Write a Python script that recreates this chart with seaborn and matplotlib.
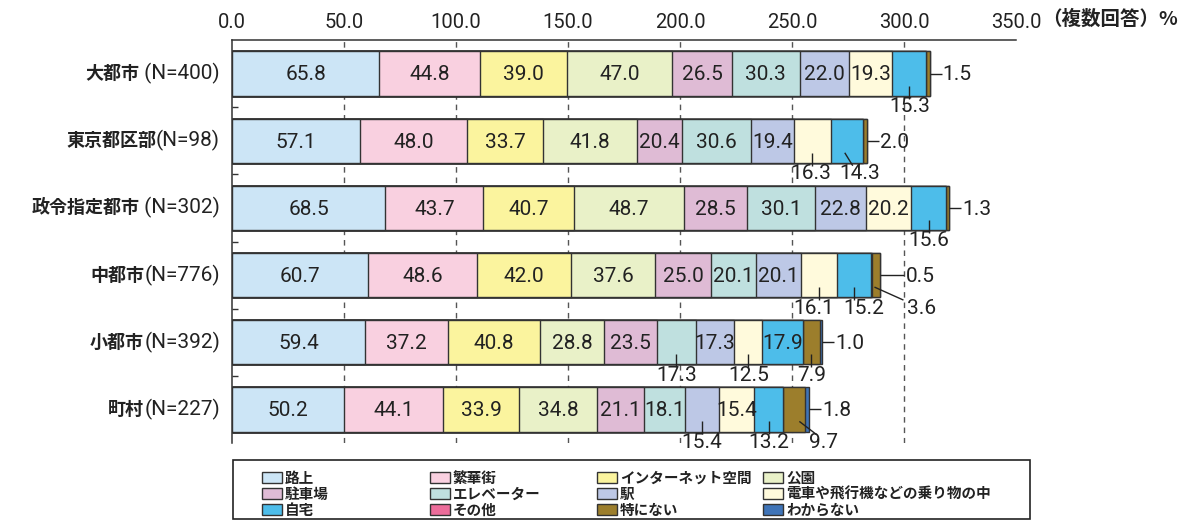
import numpy as np
import pandas as pd
import matplotlib
matplotlib.use("Agg")
import matplotlib.pyplot as plt
import seaborn as sns
from matplotlib.patches import Rectangle
from matplotlib.transforms import ScaledTranslation

# ---------------- data ----------------
areas = ['大都市', '東京都区部', '政令指定都市', '中都市', '小都市', '町村']
n_labels = [' (N=400)', '(N=98)', ' (N=302)', '(N=776)', '(N=392)', '(N=227)']

series_names = ['路上', '繁華街', 'インターネット空間', '公園', '駐車場', 'エレベーター',
                '駅', '電車や飛行機などの乗り物の中', '自宅', 'その他', '特にない', 'わからない']

road        = [65.8, 57.1, 68.5, 60.7, 59.4, 50.2]
downtown    = [44.8, 48.0, 43.7, 48.6, 37.2, 44.1]
internet    = [39.0, 33.7, 40.7, 42.0, 40.8, 33.9]
park        = [47.0, 41.8, 48.7, 37.6, 28.8, 34.8]
parking     = [26.5, 20.4, 28.5, 25.0, 23.5, 21.1]
elevator    = [30.3, 30.6, 30.1, 20.1, 17.3, 18.1]
station     = [22.0, 19.4, 22.8, 20.1, 17.3, 15.4]
vehicle     = [19.3, 16.3, 20.2, 16.1, 12.5, 15.4]
home        = [15.3, 14.3, 15.6, 15.2, 17.9, 13.2]
other       = [0.0, 0.0, 0.0, 0.5, 0.0, 0.0]
none_in_particular = [1.5, 2.0, 1.3, 3.6, 7.9, 9.7]
unknown     = [0.0, 0.0, 0.0, 0.0, 1.0, 1.8]

x_ticks = [0, 50, 100, 150, 200, 250, 300, 350]
x_tick_labels = ['0.0', '50.0', '100.0', '150.0', '200.0', '250.0', '300.0', '350.0']

series_values = [road, downtown, internet, park, parking, elevator,
                 station, vehicle, home, other, none_in_particular, unknown]

colors = ['#CCE5F6', '#F9D0E0', '#FBF49E', '#E9F1C8', '#DFBBD5', '#BFE0DF',
          '#BDC8E6', '#FFFADC', '#4DBDEA', '#EC6C9A', '#9C7E2C', '#3F74B8']

# label placement: (row, series) -> ('below', line_x0, line_x1, text_dx) in px, or ('right', leader_px)
label_rules = {
    (0, 8): ('below', 0, 0, 0), (0, 10): ('right', 12),
    (1, 7): ('below', 0, 0, -2), (1, 8): ('below', -2, 6, 13), (1, 10): ('right', 12),
    (2, 8): ('below', 0, 0, 0), (2, 10): ('right', 12),
    (3, 7): ('below', 0, 0, -5), (3, 8): ('below', 0, 0, 9),
    (3, 9): ('right', 24), (3, 10): ('below', -2, 27, 45),
    (4, 5): ('below', 0, 0, 0), (4, 7): ('below', 0, 0, 0), (4, 10): ('below', 0, 0, 0),
    (4, 11): ('right', 12),
    (5, 6): ('below', 0, 0, 0), (5, 8): ('below', 0, 0, 0), (5, 10): ('below', 5, 22, 29),
    (5, 11): ('right', 12),
}

# ---------------- figure ----------------
sns.set_theme(style="white")
plt.rcParams['font.family'] = ['Roboto', 'Noto Sans CJK JP', 'DejaVu Sans']
JP = ['Noto Sans CJK JP', 'DejaVu Sans']
TXT = '#222222'
EDGE = '#333333'
VAL_FS = 15

W, H = 1195, 520
fig = plt.figure(figsize=(W / 100, H / 100), dpi=100)
fig.patch.set_facecolor('white')

ax_l, ax_t, ax_r, ax_b = 232, 40, 1016, 443
ax = fig.add_axes([ax_l / W, 1 - ax_b / H, (ax_r - ax_l) / W, (ax_b - ax_t) / H])
XPX = 350 / (ax_r - ax_l)          # data units per pixel (x)
YPX = 6 / (ax_b - ax_t)            # data units per pixel (y)

df = pd.DataFrame({'area': areas})
cum = np.cumsum(np.array(series_values), axis=0)
for k in range(len(series_names)):
    df[f'cum{k}'] = cum[k]

# stacked bars: draw cumulative totals from the outermost segment inwards
for k in range(len(series_names) - 1, -1, -1):
    sns.barplot(data=df, x=f'cum{k}', y='area', orient='h', color=colors[k],
                saturation=1, width=0.66, edgecolor=EDGE, linewidth=1.0,
                errorbar=None, ax=ax, zorder=2)

ax.set_xlim(0, 350)
ax.set_ylim(5.5, -0.5)
ax.set_xlabel('')
ax.set_ylabel('')

# top value axis
ax.xaxis.tick_top()
ax.set_xticks(x_ticks)
ax.set_xticklabels(x_tick_labels, fontsize=14.5, color=TXT)
ax.tick_params(axis='x', length=0, pad=6)

# left category axis with separators
ax.set_yticks([])
ax.set_yticks(np.arange(0.5, 5.0, 1.0), minor=True)
ax.tick_params(axis='y', which='minor', direction='in', length=4.5, width=1, color='#333', left=True)
ax.tick_params(axis='y', which='major', length=0)

for s in ['right', 'bottom']:
    ax.spines[s].set_visible(False)
for s in ['top', 'left']:
    ax.spines[s].set_color('#333')
    ax.spines[s].set_linewidth(1.1)

for xv in x_ticks[1:-1]:
    ax.axvline(xv, color='#555', lw=1, ls=(0, (4, 3.5)), zorder=0)

# value labels
for i in range(len(areas)):
    start = 0.0
    total = cum[-1][i]
    for k in range(len(series_names)):
        v = series_values[k][i]
        if v <= 0:
            continue
        xc = start + v / 2
        start += v
        rule = label_rules.get((i, k), ('in',) if k <= 8 else ('right', 12))
        txt = f'{v:.1f}'
        if rule[0] == 'in':
            ax.text(xc, i + 0.02, txt, ha='center', va='center', fontsize=VAL_FS, color=TXT, zorder=5)
        elif rule[0] == 'below':
            _, lx0, lx1, tdx = rule
            ax.plot([xc + lx0 * XPX, xc + lx1 * XPX], [i + 12 * YPX, i + 25 * YPX],
                    color='#222', lw=1, zorder=6, solid_capstyle='butt')
            ax.text(xc + tdx * XPX, i + 33 * YPX, txt, ha='center', va='center',
                    fontsize=VAL_FS, color=TXT, zorder=5)
        else:
            L = rule[1]
            ax.plot([total, total + L * XPX], [i, i], color='#222', lw=1, zorder=6,
                    solid_capstyle='butt')
            ax.text(total + (L + 1) * XPX, i + 0.02, txt, ha='left', va='center',
                    fontsize=VAL_FS, color=TXT, zorder=5)

# category labels: bold area name followed by sample size
ytrans = ax.get_yaxis_transform() + ScaledTranslation(-12 / 100, 0, fig.dpi_scale_trans)
for i, (name, nl) in enumerate(zip(areas, n_labels)):
    nt = ax.text(0, i, nl, transform=ytrans, ha='right', va='center', fontsize=15, color=TXT)
    ax.annotate(name, xy=(0, 0.5), xycoords=nt, ha='right', va='center',
                fontsize=13, fontweight='bold', family=JP, color=TXT)

# overlay in pixel coordinates for unit note and legend
ov = fig.add_axes([0, 0, 1, 1], zorder=10)
ov.set_xlim(0, W)
ov.set_ylim(H, 0)
ov.axis('off')
ov.patch.set_alpha(0)

ov.text(1042, 19, '（複数回答）%', ha='left', va='center', fontsize=14,
        fontweight='bold', family=JP, color=TXT)

# legend
ov.add_patch(Rectangle((233, 460), 797, 59, facecolor='white', edgecolor='#222', lw=1.2))
col_x = [262, 430, 597, 763]
row_y = [477, 493, 509]
for k, name in enumerate(series_names):
    r, c = divmod(k, 4)
    x0, y0 = col_x[c], row_y[r]
    ov.add_patch(Rectangle((x0, y0 - 5.5), 20, 11, facecolor=colors[k], edgecolor='#333', lw=1))
    ov.text(x0 + 23, y0 + 0.5, name, ha='left', va='center', fontsize=10.5,
            fontweight='bold', family=JP, color=TXT)

fig.savefig('out.png', dpi=100, facecolor='white')
